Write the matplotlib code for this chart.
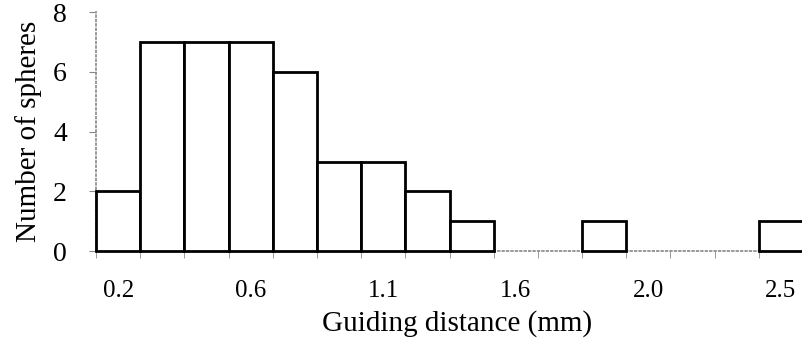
import matplotlib
matplotlib.use("Agg")
import matplotlib.pyplot as plt
import numpy as np

# histogram counts, one per bin (bins are equal width)
counts = [2, 7, 7, 7, 6, 3, 3, 2, 1, 0, 0, 1, 0, 0, 0, 1]
tick_bins = [0, 3, 6, 9, 12, 15]
tick_labels = ["0.2", "0.6", "1.1", "1.6", "2.0", "2.5"]
y_ticks = [0, 2, 4, 6, 8]

plt.rcParams["font.family"] = ["Liberation Serif", "DejaVu Serif"]

fig = plt.figure(figsize=(8.03, 3.45), dpi=100)
ax = fig.add_axes([0.1196, 0.272, 0.8804, 0.693])

x = np.arange(len(counts))
bars = ax.bar(x, counts, width=1.0, color="white", edgecolor="black",
              linewidth=2.0, zorder=3)
for b, c in zip(bars, counts):
    b.set_clip_on(False)
    if c == 0:
        # empty bins: no outline, the dotted axis shows through
        b.set_linewidth(0)

ax.set_xlim(-0.5, len(counts) - 0.5)
ax.set_ylim(0, 8)

ax.set_xticks(tick_bins)
ax.set_xticklabels(tick_labels)
ax.set_xticks(np.arange(len(counts) + 1) - 0.5, minor=True)
ax.tick_params(axis="x", which="major", length=0, pad=21, labelsize=18)
ax.tick_params(axis="x", which="minor", length=5, color="#888888", direction="out")

ax.set_yticks(y_ticks)
ax.tick_params(axis="y", which="major", length=5, color="#888888", pad=16,
               labelsize=20)

for side in ("top", "right"):
    ax.spines[side].set_visible(False)
for side in ("left", "bottom"):
    ax.spines[side].set_color("#888888")
    ax.spines[side].set_linestyle(":")
    ax.spines[side].set_linewidth(1.2)

ax.set_xlabel("Guiding distance (mm)", fontsize=21)
ax.xaxis.set_label_coords(0.51, -0.245)
ax.set_ylabel("Number of spheres", fontsize=21, labelpad=8)

fig.savefig("out.png", dpi=100)
